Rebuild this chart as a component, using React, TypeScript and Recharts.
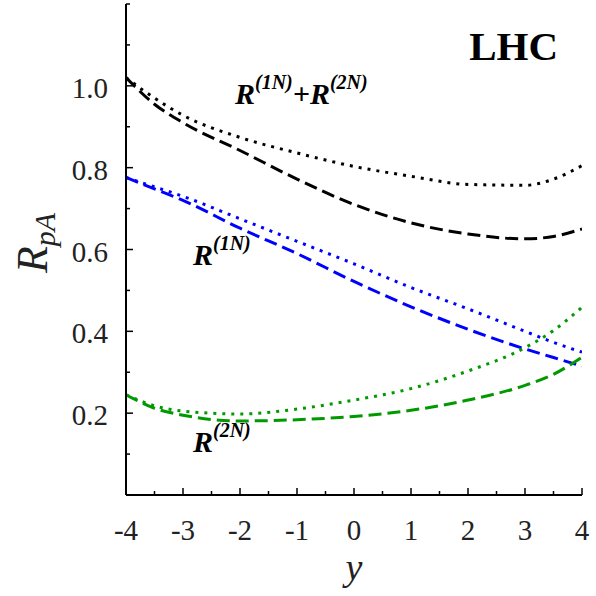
import React from 'react';
import { LineChart, Line, XAxis, YAxis } from 'recharts';

// rapidity points
const rapidity = [-4, -3.5, -3, -2, -1, 0, 1, 2, 3, 3.5, 4];

// R(1N)+R(2N)
const totalDashed = [1.02, 0.955, 0.91, 0.842, 0.772, 0.71, 0.665, 0.638, 0.626, 0.632, 0.65];
const totalDotted = [1.02, 0.97, 0.928, 0.874, 0.836, 0.803, 0.779, 0.759, 0.757, 0.772, 0.805];
// R(1N)
const oneNDashed = [0.776, 0.748, 0.72, 0.652, 0.59, 0.522, 0.46, 0.405, 0.357, 0.336, 0.315];
const oneNDotted = [0.776, 0.753, 0.73, 0.675, 0.62, 0.565, 0.507, 0.455, 0.4, 0.373, 0.349];
// R(2N)
const twoNDashed = [0.245, 0.212, 0.195, 0.181, 0.184, 0.192, 0.207, 0.232, 0.268, 0.295, 0.337];
const twoNDotted = [0.245, 0.218, 0.205, 0.198, 0.21, 0.232, 0.26, 0.303, 0.36, 0.402, 0.459];

const xTicks = [-4, -3.5, -3, -2.5, -2, -1.5, -1, -0.5, 0, 0.5, 1, 1.5, 2, 2.5, 3, 3.5, 4];
const xLabeled = [-4, -3, -2, -1, 0, 1, 2, 3, 4];
const yTicks = [0, 0.1, 0.2, 0.3, 0.4, 0.5, 0.6, 0.7, 0.8, 0.9, 1.0, 1.1, 1.2];
const yLabeled = [0.2, 0.4, 0.6, 0.8, 1.0];

const data = rapidity.map((y, i) => ({
  y,
  totalDashed: totalDashed[i],
  totalDotted: totalDotted[i],
  oneNDashed: oneNDashed[i],
  oneNDotted: oneNDotted[i],
  twoNDashed: twoNDashed[i],
  twoNDotted: twoNDotted[i],
}));

const serif = '"Liberation Serif", "DejaVu Serif", serif';
const BLUE = '#0000ff';
const GREEN = '#009a00';
const DASH = '13 6';
const DOT = '3 6';
const MAJOR = 7;
const MINOR = 4;
const TICK_FONT = 29;

const isLabeled = (list: number[], v: number) => list.some((l) => Math.abs(l - v) < 1e-6);

const BottomTick = (props: any) => {
  const { x, y, payload } = props;
  const major = isLabeled(xLabeled, payload.value);
  return (
    <g>
      <line x1={x} x2={x} y1={y} y2={y - (major ? MAJOR : MINOR)} stroke="#000" strokeWidth={1.5} />
      {major && (
        <text x={x} y={y + 45} textAnchor="middle" fontFamily={serif} fontSize={TICK_FONT} fill="#222">
          {String(payload.value).replace('−', '-')}
        </text>
      )}
    </g>
  );
};

const TopTick = (props: any) => {
  const { x, y, payload } = props;
  const major = isLabeled(xLabeled, payload.value);
  return <line x1={x} x2={x} y1={y} y2={y + (major ? MAJOR : MINOR)} stroke="#000" strokeWidth={1.5} />;
};

const LeftTick = (props: any) => {
  const { x, y, payload } = props;
  const major = isLabeled(yLabeled, payload.value);
  return (
    <g>
      <line x1={x} x2={x + (major ? MAJOR : MINOR)} y1={y} y2={y} stroke="#000" strokeWidth={1.5} />
      {major && (
        <text x={x - 18} y={y + 12} textAnchor="end" fontFamily={serif} fontSize={TICK_FONT} fill="#222">
          {payload.value.toFixed(1)}
        </text>
      )}
    </g>
  );
};

const RightTick = (props: any) => {
  const { x, y, payload } = props;
  const major = isLabeled(yLabeled, payload.value);
  return <line x1={x} x2={x - (major ? MAJOR : MINOR)} y1={y} y2={y} stroke="#000" strokeWidth={1.5} />;
};

const axisLine = { stroke: '#000', strokeWidth: 2 };

export default function App() {
  return (
    <div style={{ position: 'absolute', left: 0, top: 0, width: 596, height: 596, background: '#fff' }}>
      <LineChart width={596} height={596} data={data} margin={{ top: 4, right: 14, bottom: 0, left: 0 }}>
        <XAxis
          dataKey="y"
          type="number"
          domain={[-4, 4]}
          ticks={xTicks}
          interval={0}
          height={101}
          tickSize={0}
          tickMargin={0}
          tickLine={false}
          axisLine={axisLine}
          tick={<BottomTick />}
          allowDataOverflow
        />
        <XAxis
          xAxisId="top"
          orientation="top"
          type="number"
          domain={[-4, 4]}
          ticks={xTicks}
          interval={0}
          height={0}
          tickSize={0}
          tickMargin={0}
          tickLine={false}
          axisLine={axisLine}
          tick={<TopTick />}
          allowDataOverflow
        />
        <YAxis
          type="number"
          domain={[0, 1.2]}
          ticks={yTicks}
          interval={0}
          width={126}
          tickSize={0}
          tickMargin={0}
          tickLine={false}
          axisLine={axisLine}
          tick={<LeftTick />}
          allowDataOverflow
        />
        <YAxis
          yAxisId="right"
          orientation="right"
          type="number"
          domain={[0, 1.2]}
          ticks={yTicks}
          interval={0}
          width={0}
          tickSize={0}
          tickMargin={0}
          tickLine={false}
          axisLine={axisLine}
          tick={<RightTick />}
          allowDataOverflow
        />
        <Line dataKey="totalDotted" type="monotone" stroke="#000" strokeWidth={3} strokeDasharray={DOT} dot={false} isAnimationActive={false} />
        <Line dataKey="totalDashed" type="monotone" stroke="#000" strokeWidth={3} strokeDasharray={DASH} dot={false} isAnimationActive={false} />
        <Line dataKey="oneNDotted" type="monotone" stroke={BLUE} strokeWidth={3} strokeDasharray={DOT} dot={false} isAnimationActive={false} />
        <Line dataKey="oneNDashed" type="monotone" stroke={BLUE} strokeWidth={3} strokeDasharray={DASH} dot={false} isAnimationActive={false} />
        <Line dataKey="twoNDotted" type="monotone" stroke={GREEN} strokeWidth={3} strokeDasharray={DOT} dot={false} isAnimationActive={false} />
        <Line dataKey="twoNDashed" type="monotone" stroke={GREEN} strokeWidth={3} strokeDasharray={DASH} dot={false} isAnimationActive={false} />
      </LineChart>
      <svg width={596} height={596} style={{ position: 'absolute', left: 0, top: 0, pointerEvents: 'none' }}>
        <text x={558} y={60} textAnchor="end" fontFamily={serif} fontWeight="bold" fontSize={41} fill="#000">LHC</text>
        <g fontFamily={serif} fontWeight="bold" fontStyle="italic" fill="#000">
          <text x={235} y={104} fontSize={30}>
            R<tspan dy={-15} fontSize={20}>(1N)</tspan>
            <tspan dy={15} fontSize={30}>+R</tspan>
            <tspan dy={-15} fontSize={20}>(2N)</tspan>
          </text>
          <text x={193} y={265} fontSize={30}>
            R<tspan dy={-15} fontSize={20}>(1N)</tspan>
          </text>
          <text x={193} y={452} fontSize={30}>
            R<tspan dy={-15} fontSize={20}>(2N)</tspan>
          </text>
        </g>
        <text x={354} y={580} textAnchor="middle" fontFamily={serif} fontStyle="italic" fontSize={38} fill="#222">y</text>
        <text transform="translate(47, 243) rotate(-90)" textAnchor="middle" fontFamily={serif} fontStyle="italic" fontSize={44} fill="#222">
          R<tspan dy={8} fontSize={30}>pA</tspan>
        </text>
      </svg>
    </div>
  );
}
